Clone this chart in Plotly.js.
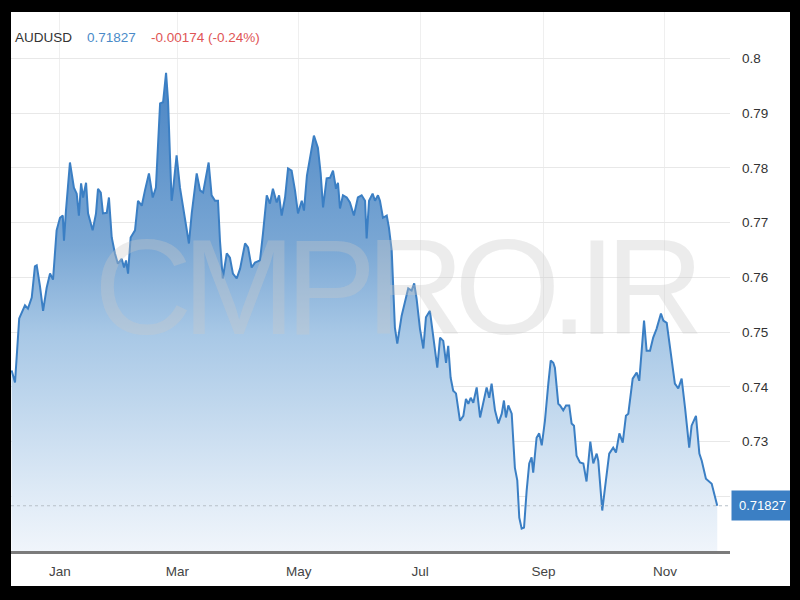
<!DOCTYPE html>
<html>
<head>
<meta charset="utf-8">
<script src="https://cdn.plot.ly/plotly-3.0.1.min.js"></script>
<style>
  html, body { margin: 0; padding: 0; background: #000; width: 800px; height: 600px; overflow: hidden; }
  #chart { position: absolute; left: 11px; top: 12px; width: 779px; height: 574px; background: #fff; }
</style>
</head>
<body>
<div id="chart"></div>
<script>
// ---- data ----
const symbol = "AUDUSD";
const lastPrice = 0.71827;
const changeText = "-0.00174 (-0.24%)";
const baseDate = "2018-01-01";           // day 0 of the offsets below
const daysFromJan1 = [-24.3,-22.6,-20.5,-17.6,-16.1,-14.2,-12.6,-11.7,-10.1,-8.5,
-6.7,-5.0,-3.5,-1.7,0,1.4,2.0,3.0,5.0,7.0,
8.4,9.5,10.6,11.6,13.1,14.1,16.4,18.1,19.1,20.5,
21.6,23.5,24.6,26.0,27.6,29.1,31.0,32.2,33.2,34.2,
35.5,37.7,39.2,41.1,42.7,44.7,46.6,48.2,50.3,51.8,
53.3,54.3,55.3,56.1,56.8,58.6,60.3,61.8,63.7,64.8,
66.2,68.7,70.4,71.9,74.7,76.2,77.9,79.4,80.4,81.8,
83.8,85.4,86.9,88.8,90.5,93.0,94.5,96.3,98.0,100.5,
102.0,103.9,105.5,107.0,108.9,110.1,111.4,113.1,114.6,116.4,
118.1,119.6,121.5,122.6,124.1,126.1,127.6,129.6,131.0,132.2,
134.0,135.7,137.2,138.7,139.7,140.7,142.2,144.1,145.7,147.7,
149.7,151.6,153.3,154.1,155.3,157.1,158.3,159.8,160.8,162.3,
164.2,165.3,166.7,168.3,169.5,171.7,173.4,175.0,176.7,178.0,
179.2,180.9,182.6,183.9,185.9,187.6,189.6,191.0,192.6,194.0,
195.1,196.3,197.6,199.0,201.0,202.7,204.0,205.2,206.4,207.7,
209.4,211.1,212.7,214.4,215.7,216.9,218.6,220.3,222.0,223.1,
224.1,225.3,227.0,228.6,229.8,230.8,232.0,233.2,234.5,235.8,
237.0,237.8,239.5,240.8,242.1,243.7,245.4,246.6,247.9,248.7,
250.4,251.3,252.9,254.3,255.9,257.1,258.3,259.6,261.3,263.0,
264.6,266.5,268.0,269.7,270.5,272.5,273.9,276.0,278.0,279.4,
281.1,282.8,284.4,285.6,287.8,289.8,291.1,293.5,294.8,296.5,
298.1,299.8,302.0,303.2,304.9,306.9,307.4,309.0,310.7,312.4,
314.1,316.2,317.4,319.6,321.3,322.5,324.6,327.5,330.3];
const prices = [0.7430,0.7408,0.7525,0.7549,0.7543,0.7563,0.7620,0.7622,0.7585,0.7539,
0.7581,0.7607,0.7596,0.7686,0.7709,0.7713,0.7667,0.7722,0.7810,0.7764,
0.7753,0.7713,0.7772,0.7746,0.7773,0.7717,0.7686,0.7717,0.7762,0.7755,
0.7717,0.7718,0.7746,0.7673,0.7644,0.7625,0.7634,0.7618,0.7631,0.7607,
0.7673,0.7686,0.7740,0.7731,0.7759,0.7790,0.7746,0.7764,0.7918,0.7920,
0.7974,0.7923,0.7819,0.7740,0.7759,0.7823,0.7764,0.7728,0.7691,0.7662,
0.7717,0.7790,0.7759,0.7755,0.7810,0.7750,0.7740,0.7740,0.7667,0.7598,
0.7644,0.7636,0.7607,0.7598,0.7616,0.7662,0.7655,0.7618,0.7627,0.7631,
0.7680,0.7750,0.7735,0.7762,0.7737,0.7750,0.7713,0.7746,0.7799,0.7795,
0.7759,0.7717,0.7740,0.7722,0.7786,0.7832,0.7859,0.7837,0.7790,0.7728,
0.7781,0.7782,0.7795,0.7762,0.7773,0.7726,0.7750,0.7746,0.7737,0.7713,
0.7746,0.7750,0.7740,0.7671,0.7740,0.7753,0.7740,0.7750,0.7740,0.7709,
0.7713,0.7691,0.7649,0.7508,0.7479,0.7530,0.7558,0.7580,0.7576,0.7589,
0.7561,0.7506,0.7470,0.7527,0.7539,0.7490,0.7435,0.7490,0.7484,0.7444,
0.7475,0.7417,0.7393,0.7388,0.7338,0.7347,0.7378,0.7369,0.7380,0.7371,
0.7399,0.7344,0.7369,0.7399,0.7380,0.7406,0.7357,0.7333,0.7351,0.7375,
0.7344,0.7366,0.7351,0.7252,0.7229,0.7161,0.7141,0.7143,0.7210,0.7260,
0.7271,0.7243,0.7307,0.7315,0.7293,0.7338,0.7406,0.7448,0.7444,0.7435,
0.7369,0.7366,0.7357,0.7366,0.7366,0.7333,0.7329,0.7274,0.7262,0.7260,
0.7227,0.7300,0.7260,0.7278,0.7265,0.7174,0.7216,0.7278,0.7289,0.7280,
0.7315,0.7298,0.7347,0.7351,0.7415,0.7426,0.7411,0.7521,0.7466,0.7466,
0.7490,0.7506,0.7534,0.7521,0.7517,0.7461,0.7448,0.7406,0.7397,0.7415,
0.7362,0.7289,0.7329,0.7347,0.7278,0.7265,0.7232,0.7223,0.71827];
const yTickVals = [0.72,0.73,0.74,0.75,0.76,0.77,0.78,0.79,0.8];
const yTickText = ["","0.73","0.74","0.75","0.76","0.77","0.78","0.79","0.8"];
const watermark = "CMPRO.IR";

// ---- build ----
const base = Date.parse(baseDate + "T00:00:00Z");
const DAY = 86400000;
const xDates = daysFromJan1.map(d => new Date(base + d * DAY).toISOString());

const FONT = "Liberation Sans, Arial, Helvetica, sans-serif";

const trace = {
  type: "scatter",
  mode: "lines",
  x: xDates,
  y: prices,
  line: { color: "#3b7fc4", width: 2 },
  fill: "tozeroy",
  fillgradient: {
    type: "vertical",
    start: 0.71,
    stop: 0.80,
    colorscale: [
      [0, "rgb(240,245,251)"],
      [0.12, "rgb(222,234,246)"],
      [0.44, "rgb(168,200,230)"],
      [0.62, "rgb(122,167,212)"],
      [1, "rgb(70,130,195)"]
    ]
  },
  hoverinfo: "skip"
};

const layout = {
  width: 779,
  height: 574,
  margin: { l: 0, r: 60, t: 0, b: 35 },
  paper_bgcolor: "#ffffff",
  plot_bgcolor: "#ffffff",
  showlegend: false,
  font: { family: FONT, color: "#333" },
  xaxis: {
    type: "date",
    range: [new Date(base - 24.62 * DAY).toISOString(), new Date(base + 336.7 * DAY).toISOString()],
    tick0: baseDate,
    dtick: "M2",
    tickformat: "%b",
    showgrid: true,
    gridcolor: "#efefef",
    gridwidth: 1,
    showline: true,
    linecolor: "#7b7b7b",
    linewidth: 2.5,
    ticks: "",
    zeroline: false,
    tickfont: { family: FONT, size: 13.5, color: "#444" },
    ticklabelstandoff: 6
  },
  yaxis: {
    range: [0.71, 0.8085],
    side: "right",
    tickvals: yTickVals,
    ticktext: yTickText,
    showgrid: true,
    gridcolor: "#e8e8e8",
    gridwidth: 1,
    showline: false,
    zeroline: false,
    ticks: "",
    tickfont: { family: FONT, size: 13.5, color: "#333" },
    ticklabelstandoff: 11
  },
  shapes: [
    { type: "line", xref: "paper", x0: 0, x1: 1, yref: "y", y0: lastPrice, y1: lastPrice,
      line: { color: "#b7c0c8", width: 1, dash: "dot" }, layer: "above" }
  ],
  annotations: [
    { text: '<span style="letter-spacing:-10px">' + watermark + '</span>', xref: "paper", yref: "paper", x: 0.5355, y: 0.4889,
      xanchor: "center", yanchor: "middle",
      showarrow: false, font: { family: FONT, size: 136, color: "rgba(200,200,200,0.35)" } },
    { text: symbol, xref: "paper", yref: "paper", x: 0.0028, y: 0.9536, xanchor: "left", yanchor: "middle",
      showarrow: false, font: { family: FONT, size: 13.5, color: "#333" } },
    { text: lastPrice.toFixed(5), xref: "paper", yref: "paper", x: 0.1029, y: 0.9536, xanchor: "left", yanchor: "middle",
      showarrow: false, font: { family: FONT, size: 13.5, color: "#4a8ac8" } },
    { text: changeText, xref: "paper", yref: "paper", x: 0.1919, y: 0.9536, xanchor: "left", yanchor: "middle",
      showarrow: false, font: { family: FONT, size: 13.5, color: "#e05555" } },
    { text: lastPrice.toFixed(5), xref: "paper", yref: "y", x: 1, y: lastPrice, xanchor: "left", yanchor: "middle",
      xshift: 1, showarrow: false, bgcolor: "#3b7fc4", borderpad: 7, align: "left",
      font: { family: FONT, size: 13, color: "#ffffff" } }
  ]
};

Plotly.newPlot("chart", [trace], layout, { staticPlot: true, displayModeBar: false });
</script>
</body>
</html>
